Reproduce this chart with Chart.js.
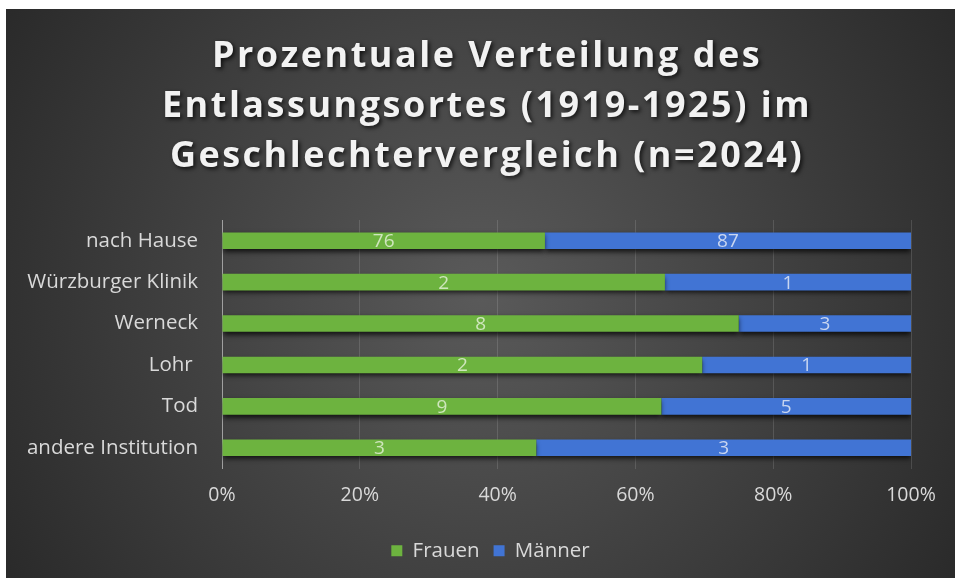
<!DOCTYPE html>
<html>
<head>
<meta charset="utf-8">
<script src="https://cdn.jsdelivr.net/npm/chart.js@4.4.0/dist/chart.umd.min.js"></script>
<style>
  html, body { margin: 0; background: #fff; }
  #wrap { position: absolute; left: 6px; top: 9px; width: 949px; height: 569px; }
</style>
</head>
<body>
<div id="wrap"><canvas id="chart" width="949" height="569"></canvas></div>
<script>
// Entlassungsorte 1919-1925, Anteile je Geschlecht (in %)
const categories = ['nach Hause', 'Würzburger Klinik', 'Werneck', 'Lohr ', 'Tod', 'andere Institution'];
const frauen = [76.4, 1.8, 8.4, 2.3, 8.8, 2.6];
const maenner = [86.6, 1.0, 2.8, 1.0, 5.0, 3.1];
const xTicks = [0, 20, 40, 60, 80, 100];
const titleLines = ['Prozentuale Verteilung des', 'Entlassungsortes (1919-1925) im', 'Geschlechtervergleich (n=2024)'];

const GREEN = '#6db33f';
const BLUE = '#4174d4';
const TEXT = '#d9d9d9';
const FONT = "'Open Sans', sans-serif";

// 100% stacked: share of each row
const totals = categories.map((_, i) => frauen[i] + maenner[i]);
const frauenShare = frauen.map((v, i) => v / totals[i] * 100);
const maennerShare = maenner.map((v, i) => v / totals[i] * 100);

const backgroundPlugin = {
  id: 'background',
  beforeDraw(chart) {
    const { ctx, width, height } = chart;
    const g = ctx.createRadialGradient(width / 2, height / 2, 0, width / 2, height / 2, width * 0.62);
    g.addColorStop(0, '#5a5a5a');
    g.addColorStop(1, '#272727');
    ctx.save();
    ctx.fillStyle = g;
    ctx.fillRect(0, 0, width, height);
    ctx.restore();
  }
};

const barShadowPlugin = {
  id: 'barShadow',
  beforeDatasetsDraw(chart) {
    const ctx = chart.ctx;
    ctx.save();
    ctx.shadowColor = 'rgba(0,0,0,0.75)';
    ctx.shadowBlur = 5;
    ctx.shadowOffsetY = 3;
  },
  afterDatasetsDraw(chart) {
    chart.ctx.restore();
  }
};

const valueLabelPlugin = {
  id: 'valueLabels',
  afterDatasetsDraw(chart) {
    const ctx = chart.ctx;
    const raw = [frauen, maenner];
    const colors = ['#cfe6bd', '#c9d6f0'];
    ctx.save();
    ctx.font = '19px ' + FONT;
    ctx.textAlign = 'center';
    ctx.textBaseline = 'middle';
    chart.data.datasets.forEach((ds, d) => {
      chart.getDatasetMeta(d).data.forEach((bar, i) => {
        ctx.fillStyle = colors[d];
        ctx.fillText(String(Math.round(raw[d][i])), (bar.x + bar.base) / 2, bar.y + 1);
      });
    });
    ctx.restore();
  }
};

const titlePlugin = {
  id: 'shadowTitle',
  afterDraw(chart) {
    const ctx = chart.ctx;
    ctx.save();
    ctx.font = 'bold 36px ' + FONT;
    ctx.letterSpacing = '2.5px';
    ctx.textAlign = 'center';
    ctx.textBaseline = 'middle';
    ctx.fillStyle = '#f2f2f2';
    ctx.shadowColor = 'rgba(0,0,0,0.75)';
    ctx.shadowBlur = 4;
    ctx.shadowOffsetX = 2;
    ctx.shadowOffsetY = 2;
    titleLines.forEach((line, i) => {
      ctx.fillText(line, 481, 48 + i * 50);
    });
    ctx.restore();
  }
};

new Chart(document.getElementById('chart'), {
  type: 'bar',
  data: {
    labels: categories,
    datasets: [
      { label: 'Frauen', data: frauenShare, backgroundColor: GREEN, barPercentage: 0.4, categoryPercentage: 1 },
      { label: 'Männer', data: maennerShare, backgroundColor: BLUE, barPercentage: 0.4, categoryPercentage: 1 }
    ]
  },
  options: {
    indexAxis: 'y',
    responsive: false,
    animation: false,
    layout: { padding: { top: 211, right: 0, bottom: 7, left: 20 } },
    plugins: {
      title: { display: false },
      tooltip: { enabled: false },
      legend: {
        position: 'bottom',
        labels: {
          color: TEXT,
          font: { family: FONT, size: 20.5 },
          boxWidth: 11,
          boxHeight: 11,
          padding: 14
        }
      }
    },
    scales: {
      x: {
        stacked: true,
        min: 0,
        max: 100,
        afterBuildTicks: (scale) => { scale.ticks = xTicks.map(v => ({ value: v })); },
        afterFit: (scale) => { scale.height = 58; },
        ticks: {
          color: TEXT,
          font: { family: FONT, size: 19.5 },
          padding: 15,
          callback: (v) => v + '%'
        },
        grid: { color: 'rgba(255,255,255,0.13)', drawTicks: false },
        border: { display: false }
      },
      y: {
        stacked: true,
        afterFit: (scale) => { scale.width = 196; },
        ticks: {
          color: TEXT,
          font: { family: FONT, size: 20.5 },
          padding: 24
        },
        grid: { display: false, drawTicks: false },
        border: { color: '#a0a0a0', width: 1 }
      },
      // empty right margin so the legend centres on the whole picture
      yRight: {
        type: 'category',
        position: 'right',
        afterFit: (scale) => { scale.width = 44; },
        ticks: { display: false },
        grid: { display: false, drawTicks: false },
        border: { display: false }
      }
    }
  },
  plugins: [backgroundPlugin, barShadowPlugin, valueLabelPlugin, titlePlugin]
});
</script>
</body>
</html>
